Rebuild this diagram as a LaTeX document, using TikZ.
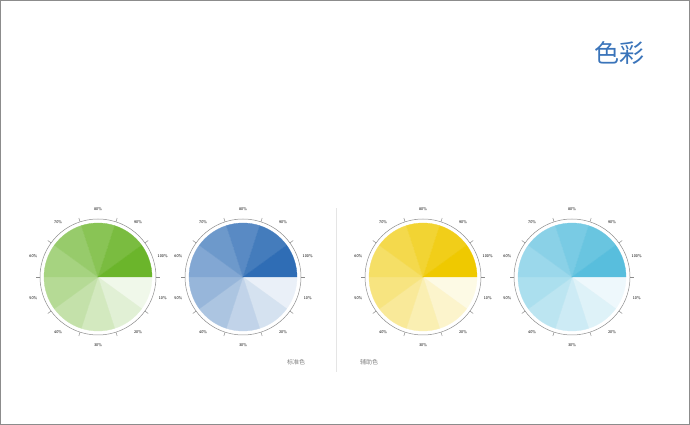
\documentclass[tikz,border=0pt]{standalone}
\usepackage{fontspec}
\newfontfamily\cjk{Noto Sans CJK SC}
\usetikzlibrary{calc}
\definecolor{wgreen}{HTML}{6BB52B}
\definecolor{wblue}{HTML}{2F6DB5}
\definecolor{wyellow}{HTML}{EFC900}
\definecolor{wcyan}{HTML}{58BEDD}
\definecolor{titleblue}{HTML}{3A74BA}

\begin{document}
\begin{tikzpicture}[x=1pt,y=1pt,
  frame/.style = {draw=black!45, line width=1pt},
  ring/.style = {draw=black!45, line width=0.5pt},
  pct/.style = {font=\sffamily\fontsize{4}{4.5}\selectfont, text=black, inner sep=0pt},
  caption/.style = {font=\cjk\fontsize{6}{7}\selectfont, text=black!50, inner sep=0pt},
]
\useasboundingbox (0,0) rectangle (690,425);
\draw[frame] (0.5,0.5) rectangle (689.5,424.5);

\node (title)[font=\cjk\fontsize{25}{28}\selectfont, text=titleblue] at (619,372) {色彩};

\foreach \w/\c/\cx in {g/wgreen/98, b/wblue/243, y/wyellow/423, c/wcyan/572}{
  \coordinate (\w) at (\cx,148);
  \foreach \k in {1,...,10}{
    \filldraw[fill=\c!\k0, draw=\c!\k0, line width=0.3pt, line join=round] (\w) -- ++({-(\k-1)*36}:54) arc[start angle={-(\k-1)*36}, end angle={-\k*36}, radius=54] -- cycle;
    \draw[ring] ($(\w)+({-\k*36}:58)$) -- ($(\w)+({-\k*36}:62)$);
    \node (\w-\k)[pct] at ($(\w)+({-(\k-0.5)*36}:68)$) {\k0\%};
  }
  \draw[ring] (\w) circle[radius=58];
}

\coordinate (top) at (336,217);
\coordinate (bot) at (336,53);
\draw[black!10, line width=0.8pt] (top) -- (bot);
\node (std)[caption] at (296,63) {标准色};
\node (aux)[caption] at (369,63) {辅助色};
\end{tikzpicture}
\end{document}
